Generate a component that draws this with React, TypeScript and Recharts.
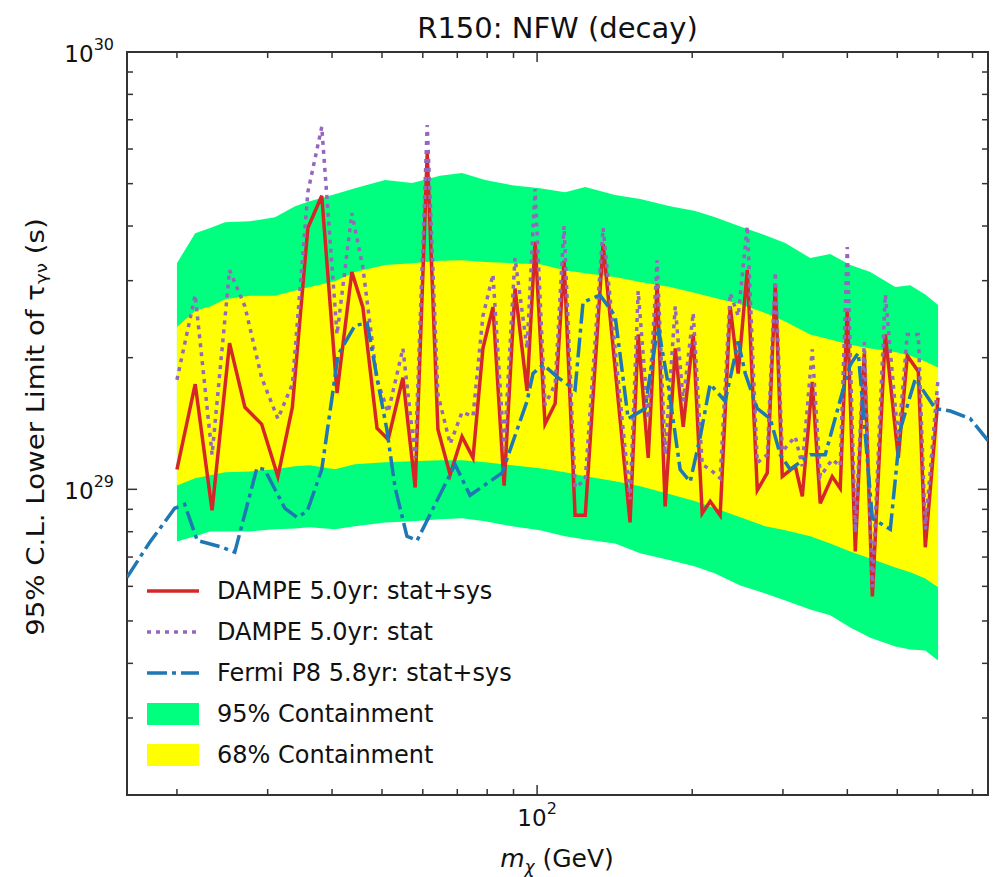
import React from "react";
import { ComposedChart, Area, Line, XAxis, YAxis, Legend, ReferenceArea, Customized } from "recharts";

const FONT = "'DejaVu Sans', Verdana, sans-serif";

// plot frame in px (follows from the chart margins + axis sizes below)
const LEFT = 127;
const RIGHT = 988;
const TOP = 52;
const BOTTOM = 795;

const RED = "#d62728";
const PURPLE = "#9467bd";
const BLUE = "#1f77b4";
const GREEN = "#00ff7f";
const YELLOW = "#ffff00";

// DAMPE 5.0yr limits (m_chi in GeV, tau in s)
const dampeMass = [20.0, 21.7, 23.4, 25.3, 27.1, 29.2, 31.4, 33.5, 35.9, 38.2, 40.9, 43.7, 45.9, 48.9, 51.4, 54.9, 58.0, 61.2, 64.2, 67.8, 71.5, 75.1, 78.5, 82.1, 86.3, 90.6, 95.6, 99.1, 103.6, 108.4, 112.8, 118.5, 124.0, 134.3, 151.5, 157.1, 164.3, 171.0, 177.2, 185.4, 192.1, 200.9, 209.1, 216.7, 226.6, 237.0, 245.6, 255.8, 267.5, 279.7, 289.9, 299.1, 317.0, 327.1, 342.0, 354.4, 373.9, 387.5, 399.9, 414.5, 431.5, 447.3, 474.0, 502.3, 522.9, 549.3, 566.7, 600];
const dampeSys = [1.11e29, 1.74e29, 0.895e29, 2.16e29, 1.54e29, 1.41e29, 1.07e29, 1.54e29, 3.96e29, 4.69e29, 1.66e29, 3.14e29, 2.61e29, 1.38e29, 1.30e29, 1.80e29, 1.01e29, 5.87e29, 1.37e29, 1.08e29, 1.32e29, 1.18e29, 2.10e29, 2.61e29, 1.02e29, 2.88e29, 1.68e29, 3.68e29, 1.41e29, 1.57e29, 3.33e29, 0.872e29, 0.872e29, 3.64e29, 0.84e29, 2.26e29, 1.18e29, 2.95e29, 0.914e29, 2.10e29, 1.39e29, 2.26e29, 0.881e29, 0.939e29, 0.872e29, 2.62e29, 1.84e29, 3.17e29, 0.995e29, 1.09e29, 2.93e29, 1.07e29, 1.13e29, 0.964e29, 1.76e29, 0.929e29, 1.07e29, 1.005e29, 2.58e29, 0.721e29, 2.05e29, 0.569e29, 2.26e29, 1.18e29, 2.02e29, 1.86e29, 0.737e29, 1.62e29];
const dampeStat = [1.78e29, 2.78e29, 1.20e29, 3.17e29, 2.62e29, 1.80e29, 1.45e29, 1.74e29, 4.78e29, 6.74e29, 2.26e29, 4.28e29, 3.22e29, 1.78e29, 1.50e29, 2.10e29, 1.18e29, 6.81e29, 1.65e29, 1.27e29, 1.50e29, 1.47e29, 2.49e29, 3.10e29, 1.24e29, 3.38e29, 2.10e29, 4.86e29, 1.56e29, 1.74e29, 4.00e29, 1.01e29, 1.05e29, 3.96e29, 0.949e29, 2.84e29, 1.45e29, 3.34e29, 1.20e29, 2.62e29, 1.59e29, 2.53e29, 1.14e29, 1.11e29, 1.06e29, 2.81e29, 2.49e29, 4.00e29, 1.15e29, 1.20e29, 3.14e29, 1.22e29, 1.32e29, 1.13e29, 2.09e29, 1.07e29, 1.17e29, 1.13e29, 3.58e29, 0.797e29, 2.17e29, 0.597e29, 2.79e29, 1.29e29, 2.26e29, 2.26e29, 0.81e29, 1.79e29];

// expected containment bands
const bandMass = [20.0, 21.7, 23.2, 24.8, 27.7, 31.0, 33.9, 36.2, 40.5, 44.3, 50.7, 57.2, 64.8, 71.5, 79.3, 89.4, 101.3, 113.3, 124.0, 141.7, 158.5, 181.2, 202.7, 221.6, 247.9, 277.2, 303.1, 338.9, 370.6, 405.3, 443.3, 495.6, 530.0, 566.7, 600];
const band95Low = [0.760e29, 0.781e29, 0.801e29, 0.801e29, 0.801e29, 0.810e29, 0.814e29, 0.819e29, 0.810e29, 0.823e29, 0.840e29, 0.845e29, 0.854e29, 0.859e29, 0.845e29, 0.823e29, 0.806e29, 0.781e29, 0.768e29, 0.752e29, 0.714e29, 0.688e29, 0.666e29, 0.642e29, 0.603e29, 0.578e29, 0.557e29, 0.531e29, 0.515e29, 0.483e29, 0.458e29, 0.437e29, 0.430e29, 0.428e29, 0.406e29];
const band68Low = [1.021e29, 1.060e29, 1.077e29, 1.094e29, 1.099e29, 1.111e29, 1.129e29, 1.135e29, 1.111e29, 1.141e29, 1.153e29, 1.159e29, 1.165e29, 1.165e29, 1.153e29, 1.135e29, 1.117e29, 1.094e29, 1.071e29, 1.043e29, 1.016e29, 0.974e29, 0.939e29, 0.905e29, 0.863e29, 0.823e29, 0.806e29, 0.781e29, 0.752e29, 0.721e29, 0.695e29, 0.663e29, 0.646e29, 0.625e29, 0.597e29];
const band68High = [2.35e29, 2.56e29, 2.62e29, 2.72e29, 2.77e29, 2.77e29, 2.85e29, 2.90e29, 2.99e29, 3.14e29, 3.26e29, 3.29e29, 3.33e29, 3.34e29, 3.31e29, 3.29e29, 3.27e29, 3.17e29, 3.12e29, 3.06e29, 2.98e29, 2.90e29, 2.81e29, 2.74e29, 2.65e29, 2.53e29, 2.42e29, 2.26e29, 2.20e29, 2.14e29, 2.10e29, 2.06e29, 2.02e29, 1.96e29, 1.90e29];
const band95High = [3.29e29, 3.85e29, 3.96e29, 4.08e29, 4.10e29, 4.19e29, 4.44e29, 4.56e29, 4.73e29, 4.88e29, 5.10e29, 5.02e29, 5.21e29, 5.29e29, 5.10e29, 4.96e29, 4.88e29, 4.78e29, 4.91e29, 4.71e29, 4.61e29, 4.44e29, 4.33e29, 4.19e29, 3.99e29, 3.81e29, 3.66e29, 3.38e29, 3.45e29, 3.26e29, 3.14e29, 2.90e29, 2.93e29, 2.79e29, 2.64e29];

// Fermi P8 5.8yr stat+sys
const fermiMass = [16.0, 17.7, 19.8, 20.7, 21.9, 24.5, 25.9, 28.6, 29.6, 32.4, 34.2, 35.8, 38.2, 41.1, 44.3, 46.8, 48.9, 51.1, 53.0, 55.9, 58.5, 69.3, 74.1, 85.5, 95.6, 98.2, 102.7, 109.8, 118.5, 122.8, 132.5, 141.7, 146.2, 150.2, 162.1, 165.8, 171.8, 179.6, 189.5, 198.2, 207.3, 216.7, 231.7, 245.6, 253.5, 267.5, 283.5, 296.4, 309.9, 338.9, 362.4, 387.5, 405.3, 420.1, 447.3, 484.7, 506.8, 542.0, 592.6, 633.8, 693.0, 751];
const fermiTau = [0.629e29, 0.756e29, 0.905e29, 0.924e29, 0.764e29, 0.737e29, 0.718e29, 1.12e29, 1.11e29, 0.905e29, 0.863e29, 0.891e29, 1.11e29, 2.03e29, 2.37e29, 2.40e29, 1.80e29, 1.37e29, 1.01e29, 0.781e29, 0.764e29, 1.14e29, 0.969e29, 1.09e29, 1.59e29, 1.84e29, 1.93e29, 1.80e29, 1.69e29, 2.68e29, 2.78e29, 2.49e29, 1.87e29, 1.45e29, 1.53e29, 1.84e29, 2.35e29, 1.74e29, 1.11e29, 1.04e29, 1.32e29, 1.74e29, 1.59e29, 2.18e29, 1.84e29, 1.53e29, 1.45e29, 1.20e29, 1.11e29, 1.20e29, 1.20e29, 1.60e29, 1.93e29, 2.05e29, 0.858e29, 0.81e29, 1.37e29, 1.79e29, 1.53e29, 1.51e29, 1.45e29, 1.29e29];

const xTicks = [20, 30, 40, 50, 60, 70, 80, 90, 100, 200, 300, 400, 500, 600, 700];
const yTicks = [2e28, 3e28, 4e28, 5e28, 6e28, 7e28, 8e28, 9e28, 1e29, 2e29, 3e29, 4e29, 5e29, 6e29, 7e29, 8e29, 9e29, 1e30];

const legendItems = [
  { label: "DAMPE 5.0yr: stat+sys", color: RED, kind: "line", dash: undefined },
  { label: "DAMPE 5.0yr: stat", color: PURPLE, kind: "line", dash: "4 5" },
  { label: "Fermi P8 5.8yr: stat+sys", color: BLUE, kind: "line", dash: "20 5 4 5" },
  { label: "95% Containment", color: GREEN, kind: "patch", dash: undefined },
  { label: "68% Containment", color: YELLOW, kind: "patch", dash: undefined },
];

const dampeData = dampeMass.map((m, i) => ({ m, sys: dampeSys[i], stat: dampeStat[i] }));
const bandData = bandMass.map((m, i) => ({ m, lo95: band95Low[i], hi95: band95High[i], lo68: band68Low[i], hi68: band68High[i] }));
const fermiData = fermiMass.map((m, i) => ({ m, tau: fermiTau[i] }));

const isDecade = (v: number) => Math.abs(Math.log10(v) - Math.round(Math.log10(v))) < 1e-6;

function YTick(props: any) {
  const { y, payload } = props;
  const major = isDecade(payload.value);
  const len = major ? 10 : 6;
  return (
    <g>
      <line x1={LEFT} x2={LEFT + len} y1={y} y2={y} stroke="#333" strokeWidth={1.5} />
      <line x1={RIGHT} x2={RIGHT - len} y1={y} y2={y} stroke="#333" strokeWidth={1.5} />
      {major && (
        <text x={LEFT - 13} y={y + 2} textAnchor="end" dominantBaseline="central" fontSize={23} fontFamily={FONT} fill="#111">
          10<tspan dy={-10} fontSize={16}>{Math.round(Math.log10(payload.value))}</tspan>
        </text>
      )}
    </g>
  );
}

function XTick(props: any) {
  const { x, payload } = props;
  const major = isDecade(payload.value);
  const len = major ? 10 : 6;
  return (
    <g>
      <line x1={x} x2={x} y1={BOTTOM} y2={BOTTOM - len} stroke="#333" strokeWidth={1.5} />
      <line x1={x} x2={x} y1={TOP} y2={TOP + len} stroke="#333" strokeWidth={1.5} />
      {major && (
        <text x={x} y={818} textAnchor="middle" dominantBaseline="central" fontSize={23} fontFamily={FONT} fill="#111">
          10<tspan dy={-10} fontSize={16}>{Math.round(Math.log10(payload.value))}</tspan>
        </text>
      )}
    </g>
  );
}

function renderLegend() {
  return (
    <div style={{ fontFamily: FONT, fontSize: 24, color: "#111" }}>
      {legendItems.map((it) => (
        <div key={it.label} style={{ display: "flex", alignItems: "center", height: 41, whiteSpace: "nowrap" }}>
          <svg width={56} height={26} style={{ marginRight: 14 }}>
            {it.kind === "patch" ? (
              <rect x={0} y={2} width={52} height={22} fill={it.color} />
            ) : (
              <line x1={0} x2={52} y1={13} y2={13} stroke={it.color} strokeWidth={3.5} strokeDasharray={it.dash} />
            )}
          </svg>
          <span>{it.label}</span>
        </div>
      ))}
    </div>
  );
}

export default function App() {
  return (
    <div style={{ position: "absolute", left: 0, top: 0, width: 995, height: 877, background: "#fff" }}>
      <ComposedChart width={995} height={877} margin={{ top: TOP, right: 995 - RIGHT, bottom: 0, left: 0 }}>
        <XAxis
          dataKey="m"
          type="number"
          scale="log"
          domain={[16, 750]}
          ticks={xTicks}
          interval={0}
          allowDataOverflow
          height={82}
          axisLine={false}
          tickLine={false}
          tick={(p: any) => <XTick {...p} />}
          label={{
            content: () => (
              <text x={557} y={867} textAnchor="middle" fontSize={25} fontFamily={FONT} fill="#111">
                <tspan fontStyle="italic">m</tspan>
                <tspan dy={6} fontSize={17} fontStyle="italic">χ</tspan>
                <tspan dy={-6}> (GeV)</tspan>
              </text>
            ),
          }}
        />
        <YAxis
          type="number"
          scale="log"
          domain={[2e28, 1e30]}
          ticks={yTicks}
          interval={0}
          allowDataOverflow
          width={LEFT}
          axisLine={false}
          tickLine={false}
          tick={(p: any) => <YTick {...p} />}
          label={{
            content: () => (
              <text transform="translate(36,427) rotate(-90) scale(1.15,1)" textAnchor="middle" dominantBaseline="central" fontSize={24} fontFamily={FONT} fill="#111">
                95% C.L. Lower Limit of τ<tspan dy={5} fontSize={16}>γν</tspan>
                <tspan dy={-5}> (s)</tspan>
              </text>
            ),
          }}
        />
        <Area data={bandData} dataKey={(d: any) => [d.lo95, d.hi95]} type="linear" stroke="none" fill={GREEN} fillOpacity={1} isAnimationActive={false} />
        <Area data={bandData} dataKey={(d: any) => [d.lo68, d.hi68]} type="linear" stroke="none" fill={YELLOW} fillOpacity={1} isAnimationActive={false} />
        <Line data={dampeData} dataKey="sys" type="linear" stroke={RED} strokeWidth={3.5} dot={false} activeDot={false} isAnimationActive={false} />
        <Line data={dampeData} dataKey="stat" type="linear" stroke={PURPLE} strokeWidth={3.5} strokeDasharray="4 5" dot={false} activeDot={false} isAnimationActive={false} />
        <Line data={fermiData} dataKey="tau" type="linear" stroke={BLUE} strokeWidth={3.5} strokeDasharray="20 5 4 5" dot={false} activeDot={false} isAnimationActive={false} />
        <ReferenceArea x1={16} x2={750} y1={2e28} y2={1e30} fill="none" stroke="#333" strokeWidth={2} ifOverflow="visible" />
        <Legend layout="vertical" align="center" verticalAlign="middle" content={renderLegend} wrapperStyle={{ left: 147, top: 570, width: "auto", height: "auto" }} />
        <Customized
          component={() => (
            <text x={(LEFT + RIGHT) / 2} y={38} textAnchor="middle" fontSize={29} fontFamily={FONT} fill="#111">
              R150: NFW (decay)
            </text>
          )}
        />
      </ComposedChart>
    </div>
  );
}
